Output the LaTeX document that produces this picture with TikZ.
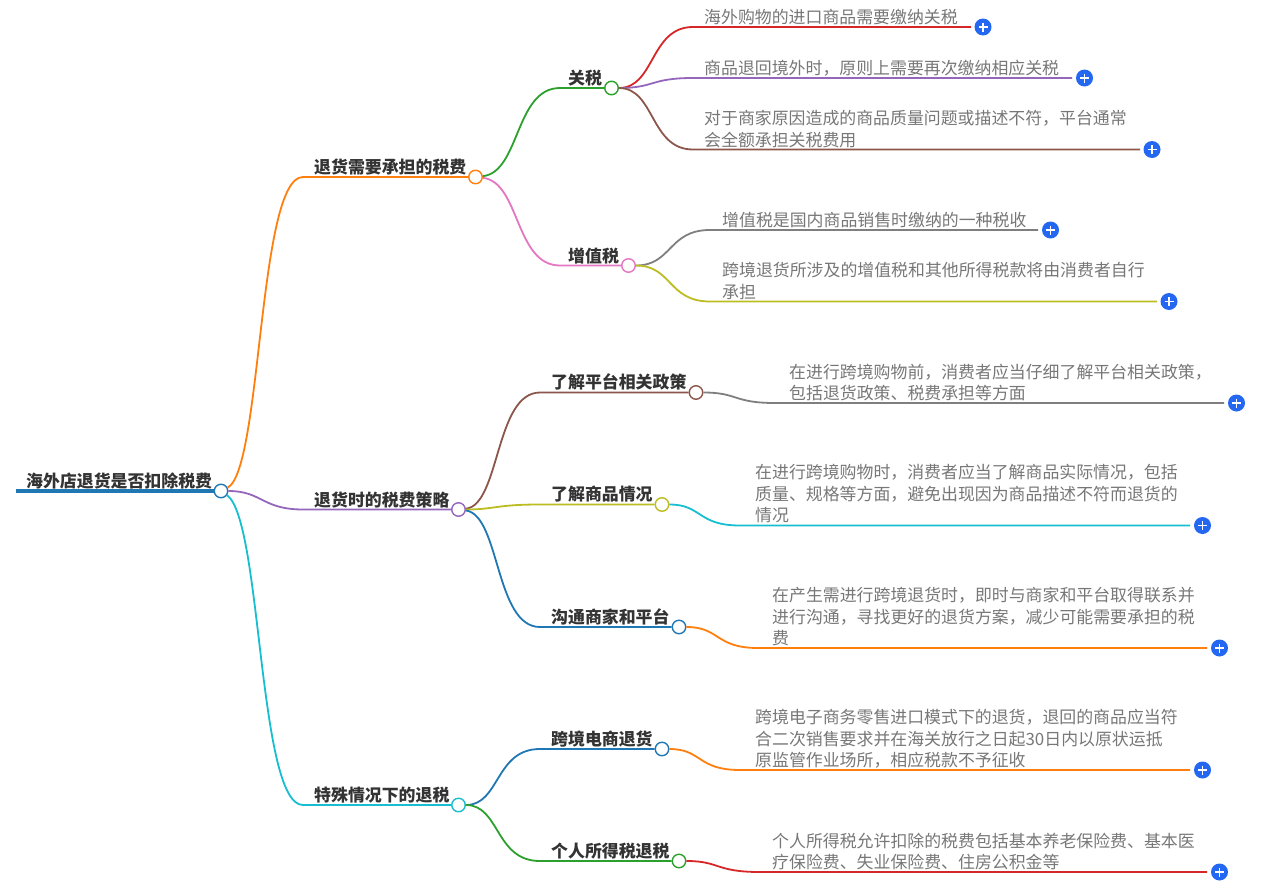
\documentclass[tikz,border=0pt]{standalone}
\usepackage{fontspec}
\setmainfont{Noto Sans CJK SC}
\definecolor{cOrange}{HTML}{FF7F0E}
\definecolor{cPurple}{HTML}{9467BD}
\definecolor{cCyan}{HTML}{17BECF}
\definecolor{cBlue}{HTML}{1F77B4}
\definecolor{cGreen}{HTML}{2CA02C}
\definecolor{cPink}{HTML}{E377C2}
\definecolor{cRed}{HTML}{D62728}
\definecolor{cBrown}{HTML}{8C564B}
\definecolor{cGray}{HTML}{7F7F7F}
\definecolor{cOlive}{HTML}{BCBD22}
\definecolor{cPlus}{HTML}{2468F2}
\definecolor{cHead}{HTML}{333333}
\definecolor{cLeaf}{HTML}{777777}

\begin{document}
\begin{tikzpicture}[x=1pt,y=-1pt,
p/.style={circle, draw=#1, fill=white, line width=1.4pt,
                inner sep=0pt, minimum width=13.5pt},
l/.style={#1, line width=1.8pt},
head/.style={anchor=west, inner sep=0pt, text=cHead, font=\fontsize{16.9}{20}\selectfont\bfseries},
leaf/.style={anchor=west, inner sep=0pt, align=left, text=cLeaf, font=\fontsize{16.9}{21.5}\selectfont},
plus/.style={circle, fill=cPlus, text=white, inner sep=0pt, minimum width=17pt,
                path picture={\draw[white, line width=1.5pt]
                  (path picture bounding box.center) +(-4.5,0) -- +(4.5,0)
                  (path picture bounding box.center) +(0,-4.5) -- +(0,4.5);}}]
    \useasboundingbox (0,0) rectangle (1272,889);

    % main nodes
    \node[p=cBlue] (root) at (221,491) {};
    \node[p=cOrange] (fee) at (475.5,177) {};
    \node[p=cPurple] (plan) at (458.5,509.5) {};
    \node[p=cCyan] (special) at (458.5,805) {};
    \node[p=cGreen] (duty) at (611.5,88) {};
    \node[p=cPink] (vat) at (628.5,265.5) {};
    \node[p=cBrown] (policy) at (696,392.5) {};
    \node[p=cOlive] (goods) at (662,504.5) {};
    \node[p=cBlue] (talk) at (679,627) {};
    \node[p=cBlue] (cross) at (662,749) {};
    \node[p=cGreen] (income) at (679,861) {};

    \node[plus] (d1) at (983,27) {};
    \node[plus] (d2) at (1084.5,78) {};
    \node[plus] (d3) at (1152,149.5) {};
    \node[plus] (v1) at (1050.5,230) {};
    \node[plus] (v2) at (1169,301.5) {};
    \node[plus] (po) at (1236.5,403) {};
    \node[plus] (go) at (1202.5,525.5) {};
    \node[plus] (ta) at (1219.5,648) {};
    \node[plus] (cr) at (1202.5,770) {};
    \node[plus] (in) at (1219.5,872) {};

    \coordinate (start) at (16,491);
    \coordinate (d1e) at (971,27);
    \coordinate (d2e) at (1072,78);
    \coordinate (d3e) at (1140,149.5);
    \coordinate (v1e) at (1038,230);
    \coordinate (v2e) at (1157,301.5);
    \coordinate (poe) at (1224,403);
    \coordinate (goe) at (1190,525.5);
    \coordinate (tae) at (1207,648);
    \coordinate (cre) at (1190,770);
    \coordinate (ine) at (1207,872);

    % first level
    \draw[cBlue, line width=4pt] (start) -- (root);
    \draw[l=cOrange] (root) .. controls (262,470) and (258,177) .. (303,177) -- (fee);
    \draw[l=cPurple] (root) .. controls (262,491) and (262,509.5) .. (303,509.5) -- (plan);
    \draw[l=cCyan] (root) .. controls (262,520) and (258,805) .. (303,805) -- (special);

    % second level
    \draw[l=cGreen] (fee) .. controls (520,172) and (515,88) .. (560,88) -- (duty);
    \draw[l=cPink] (fee) .. controls (520,182) and (515,265.5) .. (560,265.5) -- (vat);
    \draw[l=cBrown] (plan) .. controls (500,505) and (495,392.5) .. (540,392.5) -- (policy);
    \draw[l=cOlive] (plan) .. controls (495,509.5) and (495,504.5) .. (540,504.5) -- (goods);
    \draw[l=cBlue] (plan) .. controls (500,515) and (495,627) .. (540,627) -- (talk);
    \draw[l=cBlue] (special) .. controls (500,805) and (495,749) .. (540,749) -- (cross);
    \draw[l=cGreen] (special) .. controls (500,805) and (495,861) .. (540,861) -- (income);

    % leaves
    \draw[l=cRed] (duty) .. controls (655,88) and (650,27) .. (693,27) -- (d1e);
    \draw[l=cPurple] (duty) .. controls (655,88) and (650,78) .. (693,78) -- (d2e);
    \draw[l=cBrown] (duty) .. controls (655,88) and (650,149.5) .. (693,149.5) -- (d3e);
    \draw[l=cGray] (vat) .. controls (672,265.5) and (668,230) .. (710,230) -- (v1e);
    \draw[l=cOlive] (vat) .. controls (672,265.5) and (668,301.5) .. (710,301.5) -- (v2e);
    \draw[l=cGray] (policy) .. controls (738,392.5) and (733,403) .. (775,403) -- (poe);
    \draw[l=cCyan] (goods) .. controls (702,504.5) and (697,525.5) .. (740,525.5) -- (goe);
    \draw[l=cOrange] (talk) .. controls (720,627) and (715,648) .. (758,648) -- (tae);
    \draw[l=cOrange] (cross) .. controls (702,749) and (697,770) .. (740,770) -- (cre);
    \draw[l=cRed] (income) .. controls (720,861) and (715,872) .. (760,872) -- (ine);

    % labels
    \node[head] (troot) at (26,481) {海外店退货是否扣除税费};
    \node[head] (tfee) at (314,167) {退货需要承担的税费};
    \node[head] (tplan) at (314,500) {退货时的税费策略};
    \node[head] (tspecial) at (314,795) {特殊情况下的退税};
    \node[head] (tduty) at (568,78) {关税};
    \node[head] (tvat) at (568,256) {增值税};
    \node[head] (tpolicy) at (551,382) {了解平台相关政策};
    \node[head] (tgoods) at (551,494) {了解商品情况};
    \node[head] (ttalk) at (551,617) {沟通商家和平台};
    \node[head] (tcross) at (551,739) {跨境电商退货};
    \node[head] (tincome) at (551,851) {个人所得税退税};

    \node[leaf] (ld1) at (704,17.5) {海外购物的进口商品需要缴纳关税};
    \node[leaf] (ld2) at (704,68.5) {商品退回境外时，原则上需要再次缴纳相应关税};
    \node[leaf] (ld3) at (704,129) {对于商家原因造成的商品质量问题或描述不符，平台通常\\会全额承担关税费用};
    \node[leaf] (lv1) at (722,220.5) {增值税是国内商品销售时缴纳的一种税收};
    \node[leaf] (lv2) at (722,281) {跨境退货所涉及的增值税和其他所得税款将由消费者自行\\承担};
    \node[leaf] (lpo) at (789,382.5) {在进行跨境购物前，消费者应当仔细了解平台相关政策，\\包括退货政策、税费承担等方面};
    \node[leaf] (lgo) at (755,494) {在进行跨境购物时，消费者应当了解商品实际情况，包括\\质量、规格等方面，避免出现因为商品描述不符而退货的\\情况};
    \node[leaf] (lta) at (772,617) {在产生需进行跨境退货时，即时与商家和平台取得联系并\\进行沟通，寻找更好的退货方案，减少可能需要承担的税\\费};
    \node[leaf] (lcr) at (755,739) {跨境电子商务零售进口模式下的退货，退回的商品应当符\\合二次销售要求并在海关放行之日起30日内以原状运抵\\原监管作业场所，相应税款不予征收};
    \node[leaf] (lin) at (772,851.5) {个人所得税允许扣除的税费包括基本养老保险费、基本医\\疗保险费、失业保险费、住房公积金等};
\end{tikzpicture}
\end{document}
